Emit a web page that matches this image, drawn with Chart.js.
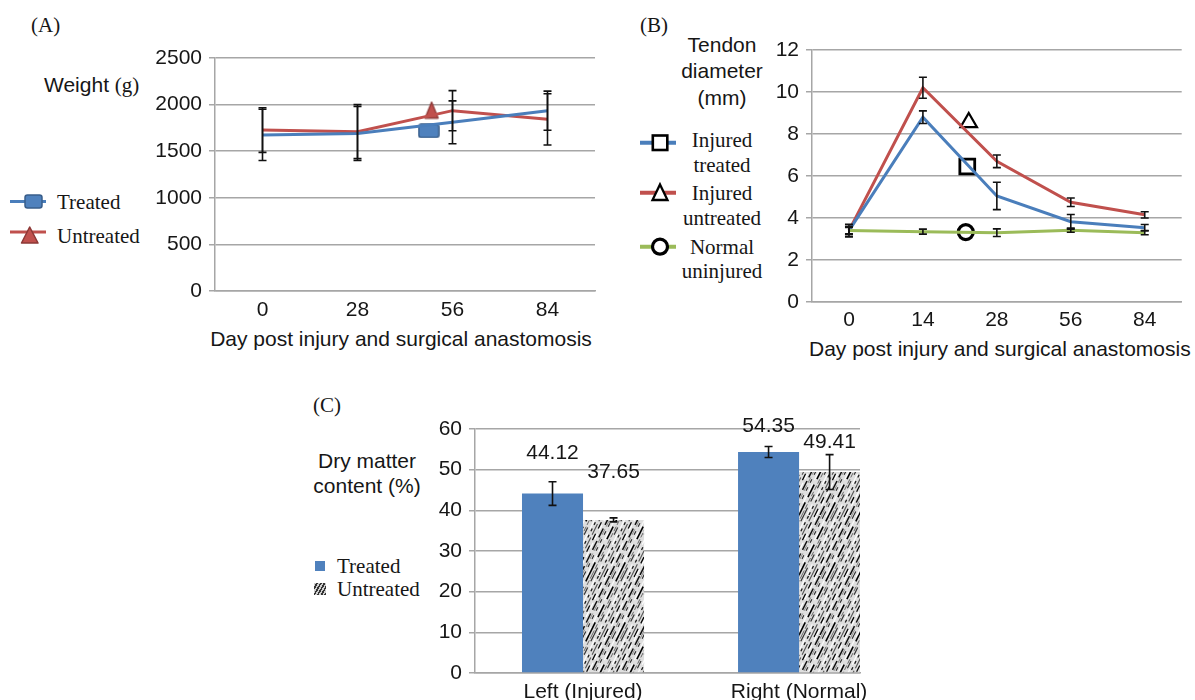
<!DOCTYPE html>
<html>
<head>
<meta charset="utf-8">
<script src="https://cdn.jsdelivr.net/npm/chart.js@4"></script>
<style>
  body { margin: 0; background: #fff; width: 1195px; height: 700px; overflow: hidden; position: relative;
         font-family: "Liberation Sans", Arial, sans-serif; color: #161616; }
  .t { position: absolute; white-space: nowrap; line-height: 1; font-size: 21px; }
  .c { transform: translate(-50%, -50%); text-align: center; }
  .l { transform: translateY(-50%); }
  .serif { font-family: "Liberation Serif", "Times New Roman", serif; }
  canvas { position: absolute; }
  svg { position: absolute; overflow: visible; }
</style>
</head>
<body>

<!-- panel A texts -->
<div class="t l serif" style="left:31px;top:25px">(A)</div>
<div class="t l" style="left:44px;top:85px">Weight <span class="serif">(g)</span></div>
<svg style="left:0;top:185px" width="50" height="65">
  <line x1="10" y1="16.5" x2="46" y2="16.5" stroke="#4a7ebb" stroke-width="3"/>
  <rect x="25" y="10" width="17" height="13" rx="2.5" fill="#4f81bd" stroke="#385d8a" stroke-width="1.5"/>
  <line x1="10" y1="47" x2="46" y2="47" stroke="#c0504d" stroke-width="3"/>
  <polygon points="29.7,42 38,58 21.5,58" fill="#c0504d" stroke="#8c3836" stroke-width="1.5" stroke-linejoin="round"/>
</svg>
<div class="t l serif" style="left:57px;top:202px">Treated</div>
<div class="t l serif" style="left:57px;top:236px">Untreated</div>
<div class="t c" style="left:401px;top:338px">Day post injury and surgical anastomosis</div>

<!-- panel B texts -->
<div class="t l serif" style="left:640px;top:25px">(B)</div>
<div class="t c" style="left:722px;top:44px">Tendon</div>
<div class="t c" style="left:722px;top:70px">diameter</div>
<div class="t c" style="left:722px;top:97px">(mm)</div>
<svg style="left:635px;top:125px" width="45" height="135">
  <line x1="5" y1="17.7" x2="41" y2="17.7" stroke="#4a7ebb" stroke-width="4"/>
  <rect x="17.8" y="10.5" width="14.5" height="14.5" fill="#fff" stroke="#000" stroke-width="2.6"/>
  <line x1="5" y1="67.7" x2="41" y2="67.7" stroke="#c0504d" stroke-width="4"/>
  <polygon points="25,59.5 32.5,75 17.5,75" fill="#fff" stroke="#000" stroke-width="2.3"/>
  <line x1="5" y1="121.7" x2="41" y2="121.7" stroke="#9bbb59" stroke-width="4"/>
  <circle cx="25" cy="121.7" r="7.5" fill="#fff" stroke="#000" stroke-width="3.2"/>
</svg>
<div class="t c serif" style="left:722px;top:140px">Injured</div>
<div class="t c serif" style="left:722px;top:165px">treated</div>
<div class="t c serif" style="left:722px;top:193px">Injured</div>
<div class="t c serif" style="left:722px;top:218px">untreated</div>
<div class="t c serif" style="left:722px;top:247px">Normal</div>
<div class="t c serif" style="left:722px;top:271px">uninjured</div>
<div class="t l" style="left:809px;top:348px">Day post injury and surgical anastomosis</div>

<!-- panel C texts -->
<div class="t l serif" style="left:313px;top:405px">(C)</div>
<div class="t c" style="left:367px;top:460px">Dry matter</div>
<div class="t c" style="left:367px;top:485px">content (%)</div>
<div style="position:absolute;left:315px;top:561px;width:10px;height:10px;background:#4f81bd"></div>
<div style="position:absolute;left:314px;top:583px;width:12px;height:12px;
     background:repeating-linear-gradient(-60deg,#333 0 1.6px,#cfcfcf 1.6px 3.2px)"></div>
<div class="t l serif" style="left:337px;top:566px">Treated</div>
<div class="t l serif" style="left:337px;top:589px">Untreated</div>

<canvas id="chartA" width="500" height="330" style="left:100px;top:30px"></canvas>
<canvas id="chartB" width="455" height="340" style="left:740px;top:30px"></canvas>
<canvas id="chartC" width="500" height="320" style="left:400px;top:395px"></canvas>

<script>
// ── Données ────────────────────────────────────────────────────────────────

// (A) poids
const daysA          = ['0', '28', '56', '84'];
const weightTreated  = [1675, 1690, 1810, 1935];
const weightTreatErr = [275, 290, 230, 210];
const weightUntreat  = [1727, 1710, 1935, 1842];
const weightUntrErr  = [240, 290, 215, 275];
const markerA        = { treated: [1.75, 1717], untreated: [1.78, 1942] };

// (B) diamètre du tendon
const daysB          = ['0', '14', '28', '56', '84'];
const diamTreated    = [3.4, 8.8, 5.05, 3.82, 3.54];
const diamTreatErr   = [0.3, 0.3, 0.65, 0.35, 0.15];
const diamUntreated  = [3.4, 10.2, 6.7, 4.75, 4.15];
const diamUntrErr    = [0.2, 0.5, 0.3, 0.2, 0.15];
const diamNormal     = [3.4, 3.35, 3.3, 3.42, 3.3];
const diamNormalErr  = [0.15, 0.12, 0.18, 0.1, 0.1];
const markerB        = { treated: [1.6, 6.45], untreated: [1.62, 8.55], normal: [1.58, 3.33] };

// (C) matière sèche
const sides          = ['Left (Injured)', 'Right (Normal)'];
const dryTreated     = [44.12, 54.35];
const dryTreatedErr  = [2.9, 1.35];
const dryUntreated   = [37.65, 49.41];
const dryUntreatErr  = [0.5, 4.3];

// ── Styles communs ─────────────────────────────────────────────────────────

const SANS   = '"Liberation Sans", Arial, sans-serif';
const FONT   = { family: SANS, size: 21 };
const GRID   = { color: '#a6a6a6', lineWidth: 1.5, tickLength: 6 };
const BORDER = { color: '#a6a6a6', width: 1.5 };
const BLUE = '#4a7ebb', RED = '#c0504d', GREEN = '#9bbb59';

const pts = arr => arr.map((v, i) => ({ x: i, y: v }));

const errorBars = {
  id: 'errorBars',
  afterDatasetsDraw(chart) {
    const { ctx, scales: { y } } = chart;
    ctx.save();
    ctx.strokeStyle = '#111';
    ctx.lineWidth = 1.6;
    chart.data.datasets.forEach((ds, i) => {
      if (!ds.errs) return;
      chart.getDatasetMeta(i).data.forEach((el, j) => {
        const v = ds.data[j].y, e = ds.errs[j];
        const top = y.getPixelForValue(v + e), bot = y.getPixelForValue(v - e);
        ctx.beginPath();
        ctx.moveTo(el.x, top);     ctx.lineTo(el.x, bot);
        ctx.moveTo(el.x - 4, top); ctx.lineTo(el.x + 4, top);
        ctx.moveTo(el.x - 4, bot); ctx.lineTo(el.x + 4, bot);
        ctx.stroke();
      });
    });
    ctx.restore();
  },
};

function xAxis(labels, min, max, pad) {
  return {
    type: 'linear', min, max, offset: false,
    grid: { display: false, drawTicks: false },
    border: BORDER,
    afterBuildTicks: s => { s.ticks = labels.map((_, i) => ({ value: i })); },
    afterFit: s => { s.height = 30; },
    ticks: { padding: pad, color: '#161616', font: FONT, maxRotation: 0, callback: v => labels[v] },
  };
}

function yAxis(max, step, width) {
  return {
    min: 0, max,
    grid: GRID, border: BORDER,
    afterFit: s => { s.width = width; },
    ticks: { stepSize: step, padding: 7, color: '#161616', font: FONT, callback: v => String(v) },
  };
}

function lineSet(data, errs, color) {
  return { data: pts(data), errs, borderColor: color, borderWidth: 3, pointRadius: 0, tension: 0 };
}

function marker(xy, style, radius, stroke, width) {
  return {
    data: [{ x: xy[0], y: xy[1] }], showLine: false, pointStyle: style, pointRadius: radius,
    pointBackgroundColor: 'rgba(0,0,0,0)', pointBorderColor: stroke, pointBorderWidth: width,
  };
}

function glyph(w, h, draw) {
  const c = document.createElement('canvas');
  c.width = w; c.height = h;
  draw(c.getContext('2d'));
  return c;
}

const squareA = glyph(22, 15, g => {
  g.fillStyle = '#4f81bd'; g.strokeStyle = '#385d8a'; g.lineWidth = 1.5;
  g.beginPath(); g.roundRect(1, 1, 20, 13, 2.5); g.fill(); g.stroke();
});
const triangleA = glyph(16, 19, g => {
  g.fillStyle = RED; g.strokeStyle = '#8c3836'; g.lineWidth = 1.3; g.lineJoin = 'round';
  g.beginPath(); g.moveTo(8, 1.5); g.lineTo(14.5, 17.5); g.lineTo(1.5, 17.5); g.closePath();
  g.fill(); g.stroke();
});

const baseOpts = {
  responsive: false, animation: false,
  plugins: { legend: { display: false }, tooltip: { enabled: false } },
};

// ── (A) ────────────────────────────────────────────────────────────────────

new Chart(document.getElementById('chartA'), {
  type: 'line',
  data: {
    datasets: [
      lineSet(weightTreated, weightTreatErr, BLUE),
      lineSet(weightUntreat, weightUntrErr, RED),
      { data: [{ x: markerA.treated[0], y: markerA.treated[1] }], showLine: false, pointStyle: squareA },
      { data: [{ x: markerA.untreated[0], y: markerA.untreated[1] }], showLine: false, pointStyle: triangleA },
    ],
  },
  options: {
    ...baseOpts,
    layout: { padding: { top: 28, bottom: 39, right: 4, left: 0 } },
    scales: { x: xAxis(daysA, -0.5, 3.5, 7), y: yAxis(2500, 500, 115) },
  },
  plugins: [errorBars],
});

// ── (B) ────────────────────────────────────────────────────────────────────

new Chart(document.getElementById('chartB'), {
  type: 'line',
  data: {
    datasets: [
      lineSet(diamNormal, diamNormalErr, GREEN),
      lineSet(diamTreated, diamTreatErr, BLUE),
      lineSet(diamUntreated, diamUntrErr, RED),
      marker(markerB.treated, 'rect', 10.5, '#000', 2.8),
      marker(markerB.untreated, 'triangle', 9.5, '#000', 2.2),
      marker(markerB.normal, 'circle', 7.5, '#000', 3.2),
    ],
  },
  options: {
    ...baseOpts,
    layout: { padding: { top: 20, bottom: 38, right: 5, left: 0 } },
    scales: { x: xAxis(daysB, -0.5, 4.5, 6), y: yAxis(12, 2, 72) },
  },
  plugins: [errorBars],
});

// ── (C) ────────────────────────────────────────────────────────────────────

function hatch(ctx) {
  const c = document.createElement('canvas');
  c.width = 30; c.height = 60;
  const g = c.getContext('2d');
  g.fillStyle = '#dedede';
  g.fillRect(0, 0, 30, 60);
  const strokes = [
    [0, '#111', 1.5, [10, 4]], [2, '#888', 1, [6, 3]], [4, '#2a2a2a', 1.1, [4, 5]],
    [7, '#f8f8f8', 1.4, [9, 4]], [9, '#000', 1.6, [14, 6]], [12, '#666', 1, [5, 2]],
    [14, '#333', 1.2, [8, 7]], [17, '#fafafa', 1.3, [12, 5]], [19, '#1a1a1a', 1.3, [3, 4]],
    [22, '#555', 1.1, [12, 3]], [25, '#000', 1.2, [7, 6]], [27, '#fff', 1.2, [6, 4]],
  ];
  strokes.forEach(([x0, col, w, dash]) => {
    g.strokeStyle = col; g.lineWidth = w; g.setLineDash(dash);
    [-30, 0, 30].forEach(dx => {
      g.beginPath(); g.moveTo(x0 + dx, 60); g.lineTo(x0 + dx + 30, 0); g.stroke();
    });
  });
  return ctx.createPattern(c, 'repeat');
}

const barLabels = {
  id: 'barLabels',
  afterDatasetsDraw(chart) {
    const ctx = chart.ctx;
    ctx.save();
    ctx.font = '21px ' + SANS;
    ctx.fillStyle = '#161616';
    ctx.textAlign = 'center';
    ctx.textBaseline = 'middle';
    chart.data.datasets.forEach((ds, i) => {
      chart.getDatasetMeta(i).data.forEach((bar, j) => {
        ctx.fillText(ds.data[j].y.toFixed(2), bar.x, bar.y - ds.labelLift[j]);
      });
    });
    ctx.restore();
  },
};

const ctxC = document.getElementById('chartC').getContext('2d');

new Chart(ctxC, {
  type: 'bar',
  data: {
    datasets: [
      { data: pts(dryTreated), errs: dryTreatedErr, labelLift: [40, 26],
        backgroundColor: '#4f81bd', categoryPercentage: 0.565, barPercentage: 1 },
      { data: pts(dryUntreated), errs: dryUntreatErr, labelLift: [48, 30],
        backgroundColor: hatch(ctxC), categoryPercentage: 0.565, barPercentage: 1 },
    ],
  },
  options: {
    ...baseOpts,
    layout: { padding: { top: 34, bottom: 12, right: 40, left: 0 } },
    scales: { x: xAxis(sides, -0.5, 1.282, 7), y: yAxis(60, 10, 75) },
  },
  plugins: [errorBars, barLabels],
});
</script>
</body>
</html>
